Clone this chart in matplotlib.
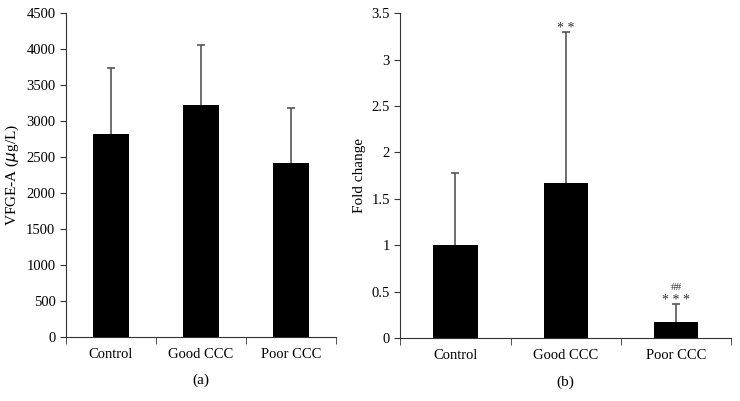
import numpy as np
import matplotlib.pyplot as plt
from matplotlib.ticker import FixedLocator

plt.rcParams['font.family'] = ['Liberation Serif', 'DejaVu Serif']

groups = ["Control", "Good CCC", "Poor CCC"]
vegf_mean = [2820, 3222, 2417]
vegf_sd = [916, 833, 763]
fold_mean = [1.0, 1.67, 0.17]
fold_sd = [0.78, 1.63, 0.20]
fold_marks = ["", "* *", "* * *"]
hash_marks = ["", "", "##"]

fig = plt.figure(figsize=(7.4, 4.01), dpi=100)
axa = fig.add_axes([0.089, 0.160, 0.365, 0.808])
axb = fig.add_axes([0.541, 0.157, 0.447, 0.810])

x = np.arange(len(groups))
ecol = "#555555"

def style(ax, ymax, step):
    ax.set_xlim(-0.5, 2.5)
    ax.set_ylim(0, ymax)
    ax.set_yticks(np.arange(0, ymax + step / 2, step))
    ax.set_xticks(x)
    ax.set_xticklabels(groups, fontsize=10.5)
    ax.tick_params(axis='x', which='major', length=0, pad=8)
    ax.xaxis.set_minor_locator(FixedLocator([-0.5, 0.5, 1.5, 2.5]))
    ax.tick_params(axis='x', which='minor', length=5, direction='out', color='#333333')
    ax.tick_params(axis='y', length=4, labelsize=10.5, color='#333333')
    for s in ['top', 'right']:
        ax.spines[s].set_visible(False)
    for s in ['left', 'bottom']:
        ax.spines[s].set_color('#333333')

def bars(ax, mean, sd):
    ax.bar(x, mean, width=0.4, color='black', zorder=3)
    eb = ax.errorbar(x, mean, yerr=[[0] * len(mean), sd], fmt='none', ecolor=ecol,
                     elinewidth=1.2, capsize=3, capthick=1.2, zorder=2)
    # only the upper cap, like the original
    eb[1][0].set_visible(False)

# (a)
bars(axa, vegf_mean, vegf_sd)
style(axa, 4500, 500)
axa.set_yticklabels([str(v) for v in range(0, 4501, 500)])
axa.set_ylabel("VFGE-A ($\\mu$g/L)", fontsize=11)
axa.text(0.5, -0.135, "(a)", transform=axa.transAxes, ha='center', va='center', fontsize=11)

# (b)
bars(axb, fold_mean, fold_sd)
style(axb, 3.5, 0.5)
axb.set_yticklabels(["0", "0.5", "1", "1.5", "2", "2.5", "3", "3.5"])
axb.set_ylabel("Fold change", fontsize=11)
axb.text(0.5, -0.135, "(b)", transform=axb.transAxes, ha='center', va='center', fontsize=11)

for i in range(len(groups)):
    top = fold_mean[i] + fold_sd[i]
    if fold_marks[i]:
        axb.annotate(fold_marks[i], (x[i], top), xytext=(0, 0), textcoords='offset points',
                     ha='center', va='baseline', fontsize=10, color='#333333')
    if hash_marks[i]:
        axb.annotate(hash_marks[i], (x[i], top), xytext=(0, 10), textcoords='offset points',
                     ha='center', va='baseline', fontsize=8, color='#333333')

fig.savefig("out.png", dpi=100)
